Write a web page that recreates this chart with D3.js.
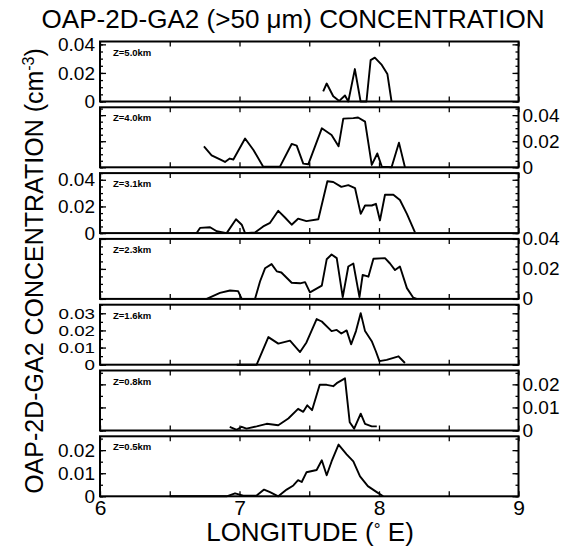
<!DOCTYPE html>
<html>
<head>
<meta charset="utf-8">
<script src="https://cdn.jsdelivr.net/npm/d3@7"></script>
<style>
  body { margin: 0; background: #fff; }
  svg text { font-family: "Liberation Sans", Arial, Helvetica, sans-serif; fill: #000; }
</style>
</head>
<body>
<svg id="chart" width="571" height="547"></svg>
<script>
// Panel labels (flight altitude), top to bottom
const altitudes = ["Z=5.0km", "Z=4.0km", "Z=3.1km", "Z=2.3km", "Z=1.6km", "Z=0.8km", "Z=0.5km"];
// Upper limit of each panel's concentration axis (cm^-3)
const yMax = [0.042, 0.046, 0.045, 0.040, 0.035, 0.026, 0.026];
// Labelled concentration ticks per panel
const yTickLabels = [
  [0, 0.02, 0.04],
  [0, 0.02, 0.04],
  [0, 0.02, 0.04],
  [0, 0.02, 0.04],
  [0, 0.01, 0.02, 0.03],
  [0, 0.01, 0.02],
  [0, 0.01, 0.02]
];
// Side carrying the tick labels
const labelSide = ["left", "right", "left", "right", "left", "right", "left"];
// Longitude axis
const lonDomain = [6, 9];
const lonTicks = [6, 7, 8, 9];

// Concentration profiles: longitude (deg E) and concentration (cm^-3)
const lon50 = [7.60, 7.625, 7.672, 7.715, 7.756, 7.78, 7.827, 7.868, 7.91, 7.94, 7.97, 8.02, 8.06, 8.09];
const conc50 = [0.0071, 0.0126, 0.0037, 0.0004, 0.0042, 0, 0.0227, 0, 0, 0.029, 0.0307, 0.0256, 0.0193, 0];

const lon40 = [6.745, 6.80, 6.86, 6.896, 6.93, 6.956, 7.04, 7.10, 7.17, 7.29, 7.374, 7.41, 7.457, 7.493, 7.59, 7.66, 7.71, 7.744, 7.816, 7.85, 7.90, 7.948, 7.988, 8.02, 8.09, 8.143, 8.186];
const conc40 = [0.0161, 0.0092, 0.006, 0.0041, 0.0067, 0.006, 0.0221, 0.0133, 0.0005, 0.0005, 0.0179, 0.0166, 0.0028, 0.0023, 0.0299, 0.0248, 0.0161, 0.0373, 0.0377, 0.0382, 0.035, 0.0018, 0.0106, 0.0005, 0, 0.0189, 0];

const lon31 = [6.50, 6.693, 6.717, 6.789, 6.837, 6.908, 6.975, 7.016, 7.04, 7.111, 7.17, 7.219, 7.278, 7.326, 7.374, 7.42, 7.48, 7.565, 7.63, 7.672, 7.73, 7.78, 7.828, 7.869, 7.90, 7.948, 7.978, 8.007, 8.043, 8.103, 8.15, 8.2, 8.258];
const conc31 = [0, 0, 0.0039, 0.0044, 0.0014, 0, 0.0104, 0.0063, 0, 0.0005, 0.005, 0.0077, 0.0167, 0.0117, 0.0063, 0.0108, 0.009, 0.0104, 0.0389, 0.0383, 0.0347, 0.036, 0.0338, 0.0144, 0.0207, 0.0207, 0.022, 0.0095, 0.0288, 0.0288, 0.0248, 0.0144, 0.0005];

const lon23 = [6.50, 6.765, 6.86, 6.932, 6.99, 7.016, 7.111, 7.147, 7.183, 7.23, 7.267, 7.30, 7.374, 7.434, 7.47, 7.505, 7.59, 7.625, 7.66, 7.697, 7.74, 7.78, 7.816, 7.86, 7.883, 7.924, 7.96, 8.043, 8.079, 8.115, 8.15, 8.2, 8.246, 8.27];
const conc23 = [0, 0, 0.004, 0.0056, 0.0052, 0, 0, 0.0116, 0.0204, 0.0232, 0.0184, 0.0176, 0.0108, 0.0104, 0.0112, 0.0044, 0.0088, 0.0264, 0.0296, 0.0272, 0.0012, 0.0216, 0.0236, 0.0012, 0.016, 0.0148, 0.0268, 0.0272, 0.0236, 0.0192, 0.0216, 0.0072, 0.0008, 0];

const lon16 = [6.98, 7.123, 7.207, 7.278, 7.362, 7.434, 7.48, 7.553, 7.59, 7.66, 7.697, 7.73, 7.768, 7.80, 7.835, 7.869, 7.90, 7.948, 7.978, 8.003, 8.055, 8.14, 8.186];
const conc16 = [0, 0, 0.0161, 0.0123, 0.014, 0.0074, 0.013, 0.0266, 0.0252, 0.0196, 0.0203, 0.0182, 0.02, 0.0119, 0.0196, 0.0301, 0.0196, 0.0137, 0.0077, 0.0021, 0.0028, 0.0049, 0.001];

const lon08 = [6.93, 6.98, 7.016, 7.05, 7.123, 7.195, 7.278, 7.35, 7.42, 7.457, 7.486, 7.52, 7.575, 7.625, 7.672, 7.697, 7.756, 7.79, 7.822, 7.869, 7.90, 7.948, 7.984];
const conc08 = [0.0016, 0.0003, 0.0016, 0.0008, 0.0018, 0.0029, 0.0023, 0.0052, 0.0094, 0.0081, 0.0109, 0.0088, 0.0198, 0.0198, 0.0192, 0.0205, 0.0226, 0.0036, 0.0008, 0.0073, 0.0029, 0.0018, 0.0018];

const lon05 = [6.5, 6.908, 6.968, 7.027, 7.123, 7.176, 7.219, 7.278, 7.338, 7.386, 7.42, 7.446, 7.48, 7.553, 7.59, 7.625, 7.66, 7.71, 7.768, 7.816, 7.864, 7.92, 7.984, 8.03];
const conc05 = [0, 0, 0.0013, 0.0003, 0.0003, 0.0029, 0.0018, 0, 0.0029, 0.0047, 0.007, 0.0062, 0.0104, 0.0114, 0.0156, 0.0091, 0.0151, 0.0224, 0.0182, 0.0151, 0.0086, 0.0044, 0.0018, 0];

const lons = [lon50, lon40, lon31, lon23, lon16, lon08, lon05];
const concs = [conc50, conc40, conc31, conc23, conc16, conc08, conc05];

// Layout
const svg = d3.select("#chart");
const left = 100, right = 518.5;
const top0 = 41.5, pitch = 65.8, ph = 60;

const x = d3.scaleLinear().domain(lonDomain).range([left, right]);
const halfTicks = d3.range(6, 9.001, 0.5);
const fmt = v => v === 0 ? "0" : d3.format(".2f")(v);

altitudes.forEach((alt, i) => {
  const t = top0 + i * pitch;
  const b = t + ph;
  const y = d3.scaleLinear().domain([0, yMax[i]]).range([b, t]);
  const g = svg.append("g");
  const minor = d3.range(0, yMax[i] + 1e-9, 0.005);

  // inward ticks on all four sides
  const addAxis = (axis, tx, ty) => {
    const a = g.append("g").attr("transform", `translate(${tx},${ty})`).call(axis);
    a.select(".domain").remove();
    a.selectAll(".tick line").attr("stroke", "#000").attr("stroke-width", 1.3);
    return a;
  };

  addAxis(d3.axisTop(x).tickValues(halfTicks).tickSize(-5).tickFormat(""), 0, t);
  const xb = addAxis(d3.axisBottom(x).tickValues(i === 6 ? lonTicks : halfTicks)
    .tickSize(-5).tickPadding(4).tickFormat(i === 6 ? d3.format("d") : ""), 0, b);
  if (i === 6) {
    addAxis(d3.axisBottom(x).tickValues([6.5, 7.5, 8.5]).tickSize(-5).tickFormat(""), 0, b);
    xb.selectAll("text").attr("font-size", 21);
  }

  // minor y ticks both sides
  addAxis(d3.axisLeft(y).tickValues(minor).tickSize(-3).tickFormat(""), left, 0);
  addAxis(d3.axisRight(y).tickValues(minor).tickSize(-3).tickFormat(""), right, 0);

  // major y ticks; labels on alternating sides
  const onLeft = labelSide[i] === "left";
  const fs = yTickLabels[i].length > 3 ? 15 : 19;
  const la = addAxis(d3.axisLeft(y).tickValues(yTickLabels[i]).tickSize(-6).tickPadding(5)
    .tickFormat(onLeft ? fmt : ""), left, 0);
  const ra = addAxis(d3.axisRight(y).tickValues(yTickLabels[i]).tickSize(-6).tickPadding(4)
    .tickFormat(onLeft ? "" : fmt), right, 0);
  la.selectAll("text").attr("font-size", fs);
  ra.selectAll("text").attr("font-size", fs);
  if (fs < 19) la.selectAll("text").attr("transform", "scale(1.25,1)").attr("x", -5 / 1.25);

  // profile line
  const line = d3.line().x((d, k) => x(lons[i][k])).y(d => y(d));
  g.append("path")
    .datum(concs[i])
    .attr("d", line)
    .attr("fill", "none")
    .attr("stroke", "#000")
    .attr("stroke-width", 1.9)
    .attr("stroke-linejoin", "round");

  // frame
  g.append("rect")
    .attr("x", left).attr("y", t)
    .attr("width", right - left).attr("height", ph)
    .attr("fill", "none").attr("stroke", "#000").attr("stroke-width", 2);

  // altitude label
  g.append("text")
    .attr("x", 113).attr("y", t + 14)
    .attr("font-size", 9.5).attr("font-weight", "bold")
    .text(alt);
});

// Title
svg.append("text")
  .attr("x", 293).attr("y", 28)
  .attr("text-anchor", "middle")
  .attr("font-size", 25)
  .attr("textLength", 503)
  .attr("lengthAdjust", "spacingAndGlyphs")
  .text("OAP-2D-GA2 (>50 μm) CONCENTRATION");

// Y title
const yt = svg.append("text")
  .attr("transform", "translate(43,271) rotate(-90)")
  .attr("text-anchor", "middle")
  .attr("font-size", 25);
yt.append("tspan").text("OAP-2D-GA2 CONCENTRATION (cm");
yt.append("tspan").attr("dy", -9).attr("font-size", 16).text("-3");
yt.append("tspan").attr("dy", 9).text(")");

// X title
const xt = svg.append("text")
  .attr("x", 310).attr("y", 541)
  .attr("text-anchor", "middle")
  .attr("font-size", 26);
xt.append("tspan").text("LONGITUDE (");
xt.append("tspan").attr("dy", -6).attr("font-size", 17).text("°");
xt.append("tspan").attr("dy", 6).text("  E)");
</script>
</body>
</html>
